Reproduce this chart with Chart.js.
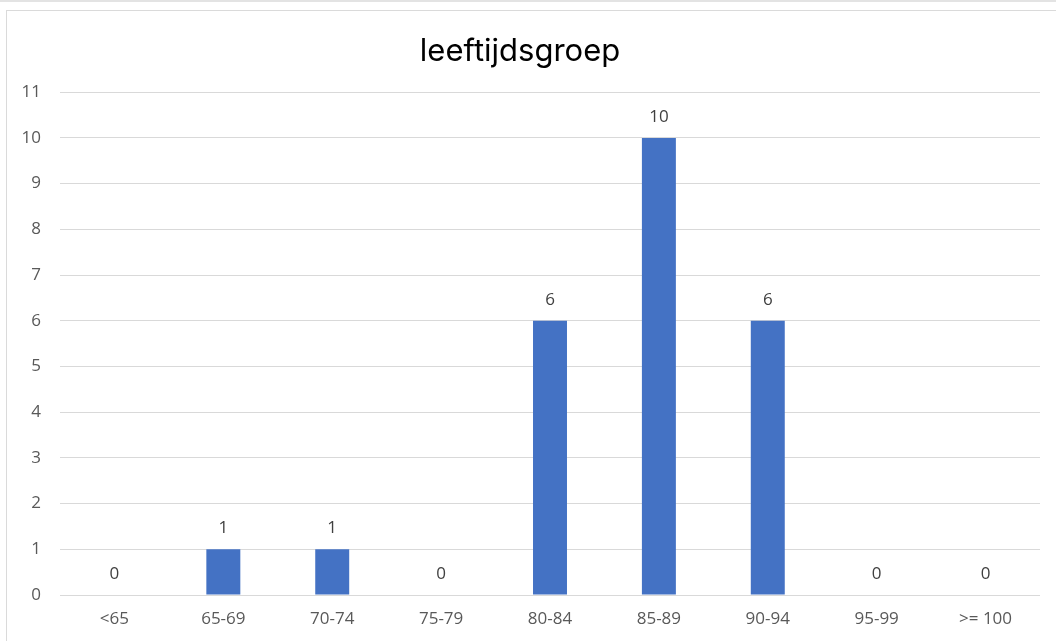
<!DOCTYPE html>
<html>
<head>
<meta charset="utf-8">
<script src="https://cdn.jsdelivr.net/npm/chart.js@4/dist/chart.umd.min.js"></script>
<style>
  html, body { margin: 0; padding: 0; background: #fff; overflow: hidden; }
  #topline { position: absolute; left: 0; top: 0; width: 1056px; height: 2px; background: #e3e3e3; }
  #frame { position: absolute; left: 6px; top: 10px; width: 1070px; height: 660px; border: 1px solid #dadada; }
  #wrap { position: absolute; left: 0; top: 0; width: 1056px; height: 641px; }
</style>
</head>
<body>
<div id="topline"></div>
<div id="frame"></div>
<div id="wrap"><canvas id="chart"></canvas></div>
<script>
// leeftijdsgroep data
const categories = ["<65", "65-69", "70-74", "75-79", "80-84", "85-89", "90-94", "95-99", ">= 100"];
const counts = [0, 1, 1, 0, 6, 10, 6, 0, 0];
const yMax = 11;

// draws the value above every bar (also the zero ones)
const valueLabels = {
  id: "valueLabels",
  afterDatasetsDraw(chart) {
    const ctx = chart.ctx;
    const meta = chart.getDatasetMeta(0);
    ctx.save();
    ctx.font = "17px 'Open Sans'";
    ctx.fillStyle = "#404040";
    ctx.textAlign = "center";
    ctx.textBaseline = "middle";
    meta.data.forEach((bar, i) => {
      ctx.fillText(String(counts[i]), bar.x, bar.y - 21);
    });
    ctx.restore();
  }
};

new Chart(document.getElementById("chart"), {
  type: "bar",
  data: {
    labels: categories,
    datasets: [
      {
        label: "leeftijdsgroep",
        data: counts,
        backgroundColor: "#4472C4",
        barPercentage: 0.52,
        categoryPercentage: 0.6,
      },
    ],
  },
  options: {
    responsive: true,
    maintainAspectRatio: false,
    animation: false,
    layout: { padding: { top: 33, right: 16, left: 0, bottom: 0 } },
    plugins: {
      legend: { display: false },
      tooltip: { enabled: false },
      title: {
        display: true,
        text: "leeftijdsgroep",
        color: "#000",
        font: { family: "Inter", size: 31, weight: "normal", lineHeight: 1.2 },
        padding: { top: 0, bottom: 22 },
      },
    },
    scales: {
      x: {
        grid: { display: false, drawTicks: false },
        border: { display: false },
        ticks: { color: "#595959", font: { family: "Open Sans", size: 17 }, padding: 14 },
        afterFit: (s) => { s.height = 46; },
      },
      y: {
        min: 0,
        max: yMax,
        grid: { color: "#d9d9d9", lineWidth: 1, drawTicks: false },
        border: { display: false },
        ticks: { stepSize: 1, color: "#595959", font: { family: "Open Sans", size: 17 }, padding: 19 },
        afterFit: (s) => { s.width = 60; },
      },
    },
  },
  plugins: [valueLabels],
});
</script>
</body>
</html>
